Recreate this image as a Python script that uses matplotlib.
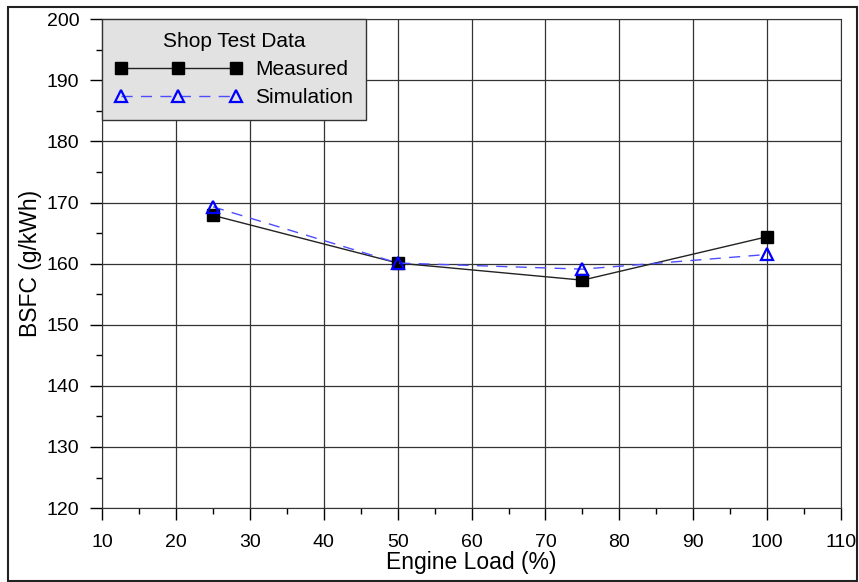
import matplotlib.pyplot as plt
from matplotlib.patches import Rectangle
from matplotlib.ticker import MultipleLocator

plt.rcParams['font.family'] = ['Liberation Sans', 'DejaVu Sans']

load = [25, 50, 75, 100]
measured = [167.9, 160.1, 157.3, 164.4]
simulation = [169.3, 160.1, 159.1, 161.5]

fig = plt.figure(figsize=(8.59, 5.82), dpi=100)
ax = fig.add_axes([0.119, 0.127, 0.860, 0.840])

ax.plot(load, measured, color='#222222', lw=1, marker='s', ms=9,
        mfc='black', mec='black', label='Measured', zorder=3)
ax.plot(load, simulation, color='#4d4dff', lw=1, ls=(0, (8, 6)), marker='^', ms=8,
        mfc='none', mec='#0000ff', mew=1.6, label='Simulation', zorder=4)

ax.set_xlim(10, 110)
ax.set_ylim(120, 200)
ax.xaxis.set_major_locator(MultipleLocator(10))
ax.xaxis.set_minor_locator(MultipleLocator(5))
ax.yaxis.set_major_locator(MultipleLocator(10))
ax.yaxis.set_minor_locator(MultipleLocator(5))
ax.tick_params(which='major', direction='out', length=8.5, width=1, labelsize=14)
ax.tick_params(which='minor', direction='out', length=4, width=1)
ax.tick_params(axis='x', which='major', pad=10)
ax.tick_params(axis='y', which='major', pad=8)
ax.grid(which='major', color='#333333', lw=0.9)
ax.set_axisbelow(True)
for s in ax.spines.values():
    s.set_color('#333333')

ax.set_xlabel('Engine Load (%)', fontsize=16.5, labelpad=0)
ax.set_ylabel('BSFC (g/kWh)', fontsize=16.5, labelpad=3)

leg = ax.legend(title='Shop Test Data', loc='upper left', bbox_to_anchor=(0.0, 1.0),
                numpoints=3, handlelength=6.1, handletextpad=0.65, fontsize=15,
                title_fontsize=15, borderpad=0.6, labelspacing=0.45,
                fancybox=False, framealpha=1, borderaxespad=0)
leg.get_frame().set_facecolor('#e2e2e2')
leg.get_frame().set_edgecolor('#333333')

fig.patches.append(Rectangle((0.0093, 0.0017), 0.9884, 0.9863, transform=fig.transFigure,
                             fill=False, edgecolor='#222222', lw=1.5))

fig.savefig('out.png', dpi=100)
